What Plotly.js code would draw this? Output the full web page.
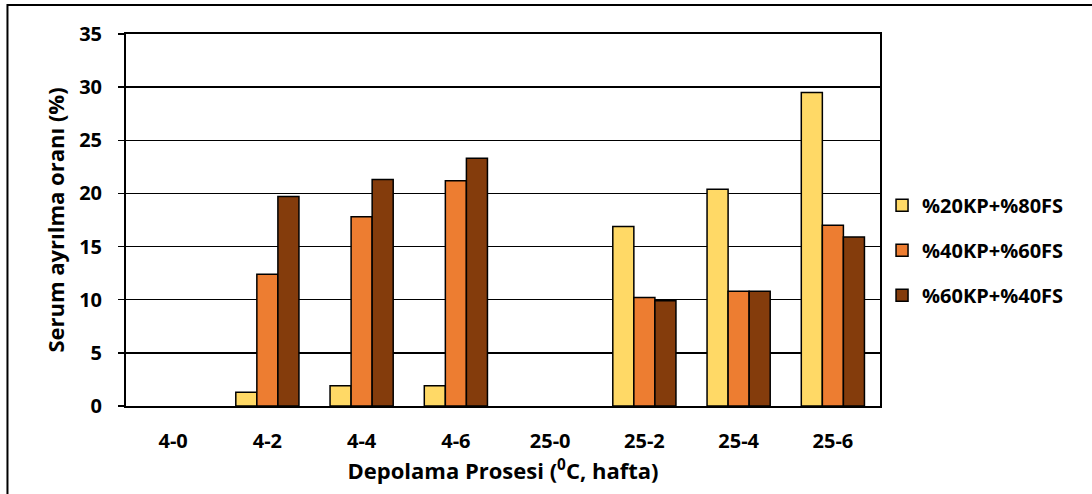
<!DOCTYPE html>
<html><head><meta charset="utf-8">
<script src="https://cdn.plot.ly/plotly-3.0.1.min.js"></script>
<style>html,body{margin:0;padding:0;background:#fff;}#chart{width:1092px;height:494px;}</style>
</head><body><div id="chart"></div>
<script>
const categories = ['4-0','4-2','4-4','4-6','25-0','25-2','25-4','25-6'];
const seriesNames = ['%20KP+%80FS','%40KP+%60FS','%60KP+%40FS'];
const s20 = [null, 1.3, 1.9, 1.9, null, 16.9, 20.4, 29.5];
const s40 = [null, 12.4, 17.8, 21.2, null, 10.2, 10.8, 17.0];
const s60 = [null, 19.7, 21.3, 23.3, null, 9.9, 10.8, 15.9];
const colors = ['#FFD966','#ED7D31','#843C0C'];
const yTicks = [0,5,10,15,20,25,30,35];

const font = '"Open Sans", "DejaVu Sans", sans-serif';
const data = [s20, s40, s60].map((v,i)=>({
  type:'bar', x:categories, y:v, name:seriesNames[i],
  legendgroup:'g'+i,
  marker:{color:colors[i], line:{color:'#000', width:1.5}},
  hoverinfo:'x+y'
}));

const layout = {
  width:1092, height:494,
  margin:{l:126, r:212, t:34, b:88},
  paper_bgcolor:'#fff', plot_bgcolor:'#fff',
  font:{family:font, size:20, color:'#000'},
  barmode:'group', bargap:0.33, bargroupgap:0,
  xaxis:{
    type:'category', showline:true, linecolor:'#000', linewidth:2, mirror:true,
    ticks:'', tickfont:{family:font, size:20, weight:'bold'},
    ticklabelstandoff:16,
    title:{text:'Depolama Prosesi (<sup>0</sup>C, hafta)', font:{family:font, size:22, weight:'bold'}, standoff:9}
  },
  yaxis:{
    range:[0,35], tickvals:yTicks, ticktext:yTicks.map(String),
    showline:true, linecolor:'#000', linewidth:2, mirror:true,
    ticks:'outside', ticklen:6, tickcolor:'#000', tickwidth:1.5,
    showgrid:true, gridcolor:'#000', gridwidth:1.5, zeroline:false,
    tickfont:{family:font, size:20, weight:'bold'}, ticklabelstandoff:12,
    title:{text:'Serum ayrılma oranı (%)', font:{family:font, size:22, weight:'bold'}, standoff:8}
  },
  legend:{
    x:1.0027, xanchor:'left', y:0.592, yanchor:'top',
    font:{family:font, size:20, weight:'bold'},
    tracegroupgap:16, traceorder:'grouped', itemwidth:30
  },
  shapes:[{type:'rect', xref:'paper', yref:'paper', x0:-0.1572, x1:1.2918, y0:-0.2527, y1:1.078,
    line:{color:'#000', width:2}, fillcolor:'rgba(0,0,0,0)', layer:'below'}]
};
Plotly.newPlot('chart', data, layout, {displayModeBar:false, staticPlot:true});
</script></body></html>
